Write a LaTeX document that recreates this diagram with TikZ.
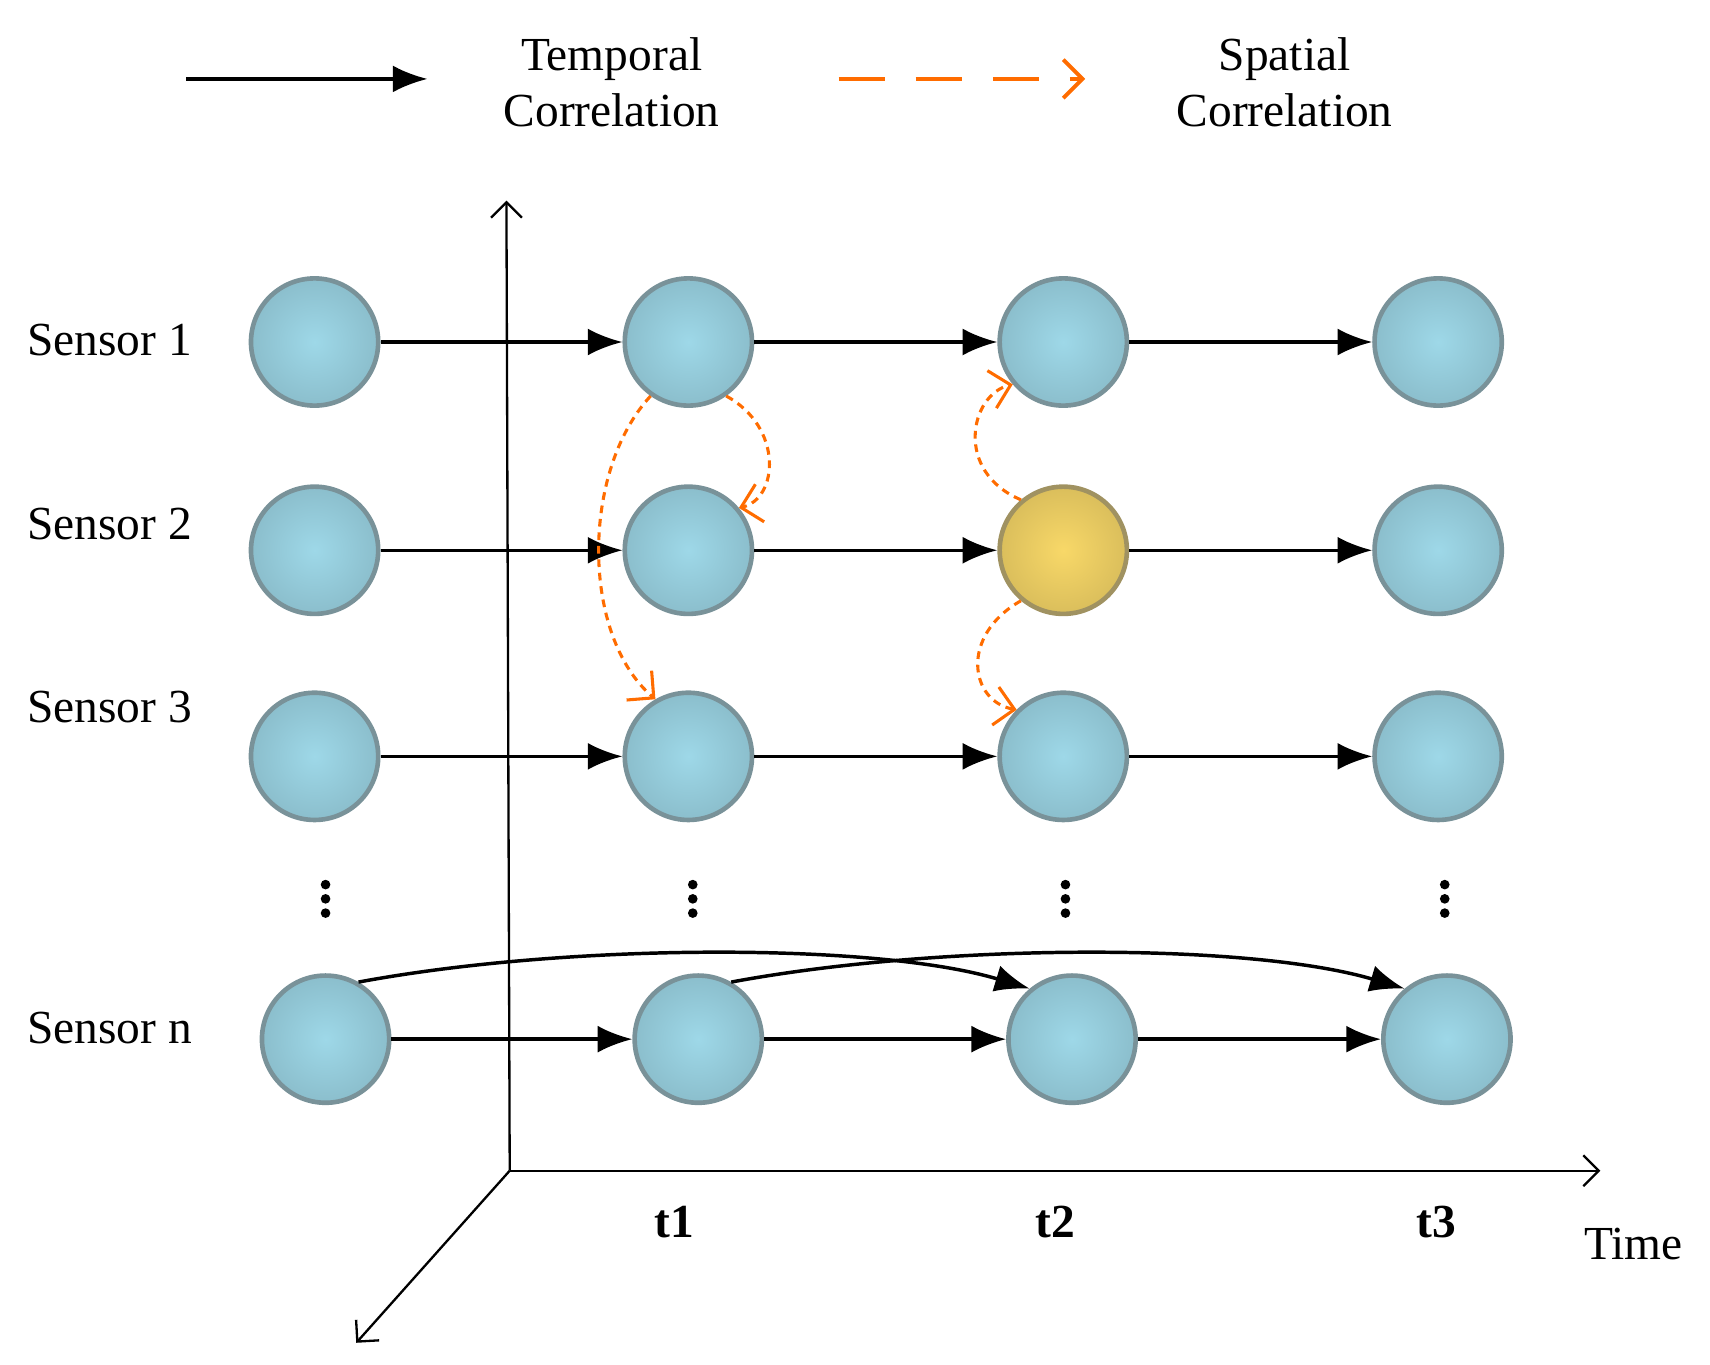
\documentclass[tikz,border=0pt]{standalone}
\usepackage{fontspec}
\setmainfont{Liberation Serif}
\usetikzlibrary{arrows.meta}
\begin{document}
\begin{tikzpicture}[x=0.01cm,y=-0.01cm,
  arr/.style={-{Latex[length=9pt,width=7pt]},line width=0.9pt},
  sp/.style={-{Straight Barb[length=5pt]},draw=orange!85!red,dashed,dash pattern=on 2pt off 1.5pt,line width=0.8pt},
  lab/.style={font=\fontsize{12.3}{14.5}\selectfont}]
\definecolor{bl}{HTML}{9ED8E8}
\definecolor{yl}{HTML}{F8D868}
\tikzset{bn/.style={circle,inner sep=0pt,minimum size=1.16cm,draw=bl!55!black!80,line width=1.2pt,inner color=bl,outer color=bl!88!black},
 yn/.style={bn,draw=yl!55!black!80,inner color=yl,outer color=yl!88!black},
 dt/.style={circle,fill=black,inner sep=0pt,minimum size=2.5pt}}
\useasboundingbox (0,0) rectangle (1560,1245);
% legend
\coordinate (la) at (170,72); \coordinate (lb) at (390,72);
\draw[arr] (la) -- (lb);
\node[lab,align=center] (lt) at (558,75) {Temporal\\Correlation};
\coordinate (lc) at (765,72); \coordinate (ld) at (990,72);
\draw[-{Straight Barb[length=5pt]},draw=orange!85!red,dash pattern=on 12pt off 8pt,line width=1pt] (lc) -- (ld);
\node[lab,align=center] (ls) at (1172,75) {Spatial\\Correlation};
% axes
\coordinate (o) at (465,1068);
\coordinate (ya) at (462,183); \coordinate (xa) at (1460,1068); \coordinate (za) at (325,1225);
\draw[-{Straight Barb[length=4pt]},line width=0.6pt] (o) -- (ya);
\draw[-{Straight Barb[length=4pt]},line width=0.6pt] (o) -- (xa);
\draw[-{Straight Barb[length=4pt]},line width=0.6pt] (o) -- (za);
\node[lab,font=\fontsize{12.3}{14.5}\selectfont\bfseries] (t1) at (615,1115) {t1};
\node[lab,font=\fontsize{12.3}{14.5}\selectfont\bfseries] (t2) at (963,1115) {t2};
\node[lab,font=\fontsize{12.3}{14.5}\selectfont\bfseries] (t3) at (1310,1115) {t3};
\node[lab] (tm) at (1490,1135) {Time};
% labels
\node[lab] (s1) at (100,310) {Sensor 1};
\node[lab] (s2) at (100,478) {Sensor 2};
\node[lab] (s3) at (100,645) {Sensor 3};
\node[lab] (sn) at (100,938) {Sensor n};
% nodes
\foreach \r/\y in {1/312,2/502,3/690}{
  \node[bn] (n\r a) at (287,\y) {};
  \node[bn] (n\r b) at (628,\y) {};
  \node[bn] (n\r d) at (1312,\y) {};
}
\node[bn] (n1c) at (970,312) {};
\node[yn] (n2c) at (970,502) {};
\node[bn] (n3c) at (970,690) {};
\node[bn] (nna) at (297,948) {};
\node[bn] (nnb) at (637,948) {};
\node[bn] (nnc) at (978,948) {};
\node[bn] (nnd) at (1320,948) {};
\foreach \r in {1,2,3,n}{
  \draw[arr] (n\r a) -- (n\r b);
  \draw[arr] (n\r b) -- (n\r c);
  \draw[arr] (n\r c) -- (n\r d);
}
\foreach \x [count=\i] in {297,632,972,1318}{
  \node[dt] (da\i) at (\x,807) {};
  \node[dt] (db\i) at (\x,820) {};
  \node[dt] (dc\i) at (\x,833) {};
}
% long arcs
\draw[arr] (nna.60) .. controls (520,860) and (800,860) .. (nnc.130);
\draw[arr] (nnb.60) .. controls (860,860) and (1140,860) .. (nnd.130);
% spatial
\draw[sp] (n1b.235) .. controls (530,430) and (530,580) .. (n3b.120);
\draw[sp] (n1b.305) .. controls (715,390) and (710,455) .. (n2b.40);
\draw[sp] (n2c.130) .. controls (870,430) and (885,360) .. (n1c.220);
\draw[sp] (n2c.230) .. controls (875,580) and (885,640) .. (n3c.135);
\end{tikzpicture}
\end{document}
